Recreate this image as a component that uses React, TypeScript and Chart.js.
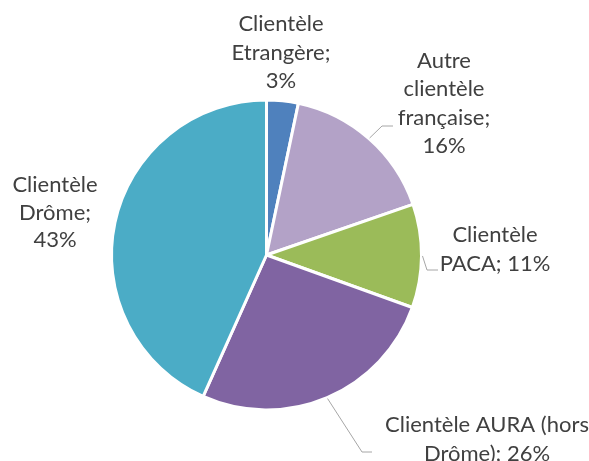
import React, { useEffect, useRef } from "react";
import { Chart, registerables } from "chart.js";

Chart.register(...registerables);

const categories = [
  "Clientèle Etrangère",
  "Autre clientèle française",
  "Clientèle PACA",
  "Clientèle AURA (hors Drôme)",
  "Clientèle Drôme",
];
const shares = [3.3, 16.4, 10.8, 26.2, 43.3];
const percentLabels = ["3%", "16%", "11%", "26%", "43%"];
const colors = ["#4F81BD", "#B3A2C7", "#9BBB59", "#8064A2", "#4BACC6"];

// Text layout of each data label (lines, centre x, first baseline, line gap)
const labelLines = [
  ["Clientèle", "Etrangère;", "3%"],
  ["Autre", "clientèle", "française;", "16%"],
  ["Clientèle", "PACA; 11%"],
  ["Clientèle AURA (hors", "Drôme); 26%"],
  ["Clientèle", "Drôme;", "43%"],
];
const labelLayout = [
  { x: 281, y: 31, gap: 28.7 },
  { x: 444, y: 68, gap: 28.4 },
  { x: 495, y: 242, gap: 28.5 },
  { x: 487, y: 432, gap: 28.5 },
  { x: 55, y: 192, gap: 27.7 },
];
// leader lines: [elbow, end] points, null = none
const leaders: (number[][] | null)[] = [
  null,
  [[382, 126], [393, 126]],
  [[427, 270], [438, 270]],
  [[362, 452], [372, 452]],
  null,
];

const labelPlugin = {
  id: "outLabels",
  afterDatasetsDraw(chart: any) {
    const ctx = chart.ctx;
    const meta = chart.getDatasetMeta(0);
    ctx.save();
    meta.data.forEach((arc: any, i: number) => {
      const ld = leaders[i];
      if (ld) {
        const mid = (arc.startAngle + arc.endAngle) / 2;
        const sx = arc.x + Math.cos(mid) * (arc.outerRadius + 1);
        const sy = arc.y + Math.sin(mid) * (arc.outerRadius + 1);
        ctx.strokeStyle = "#A6A6A6";
        ctx.lineWidth = 1;
        ctx.beginPath();
        ctx.moveTo(sx, sy);
        ld.forEach((p) => ctx.lineTo(p[0], p[1]));
        ctx.stroke();
      }
      const L = labelLayout[i];
      ctx.fillStyle = "#404040";
      ctx.font = "22px Lato, 'Liberation Sans', sans-serif";
      ctx.textAlign = "center";
      ctx.textBaseline = "alphabetic";
      labelLines[i].forEach((t, j) => ctx.fillText(t, L.x, L.y + j * L.gap));
    });
    ctx.restore();
  },
};

export default function App() {
  const ref = useRef<HTMLCanvasElement | null>(null);
  useEffect(() => {
    if (!ref.current) return;
    const chart = new Chart(ref.current, {
      type: "pie",
      data: {
        labels: categories,
        datasets: [
          {
            data: shares,
            backgroundColor: colors,
            borderColor: "#FFFFFF",
            borderWidth: 3,
          },
        ],
      },
      options: {
        responsive: false,
        animation: false,
        layout: { padding: { left: 110, right: 166, top: 98, bottom: 49 } },
        plugins: {
          legend: { display: false },
          tooltip: { enabled: false },
        },
      },
      plugins: [labelPlugin],
    });
    return () => chart.destroy();
  }, []);
  return (
    <div style={{ position: "fixed", left: 0, top: 0, width: 589, height: 461, background: "#fff" }}>
      <canvas ref={ref} width={589} height={461} />
    </div>
  );
}
